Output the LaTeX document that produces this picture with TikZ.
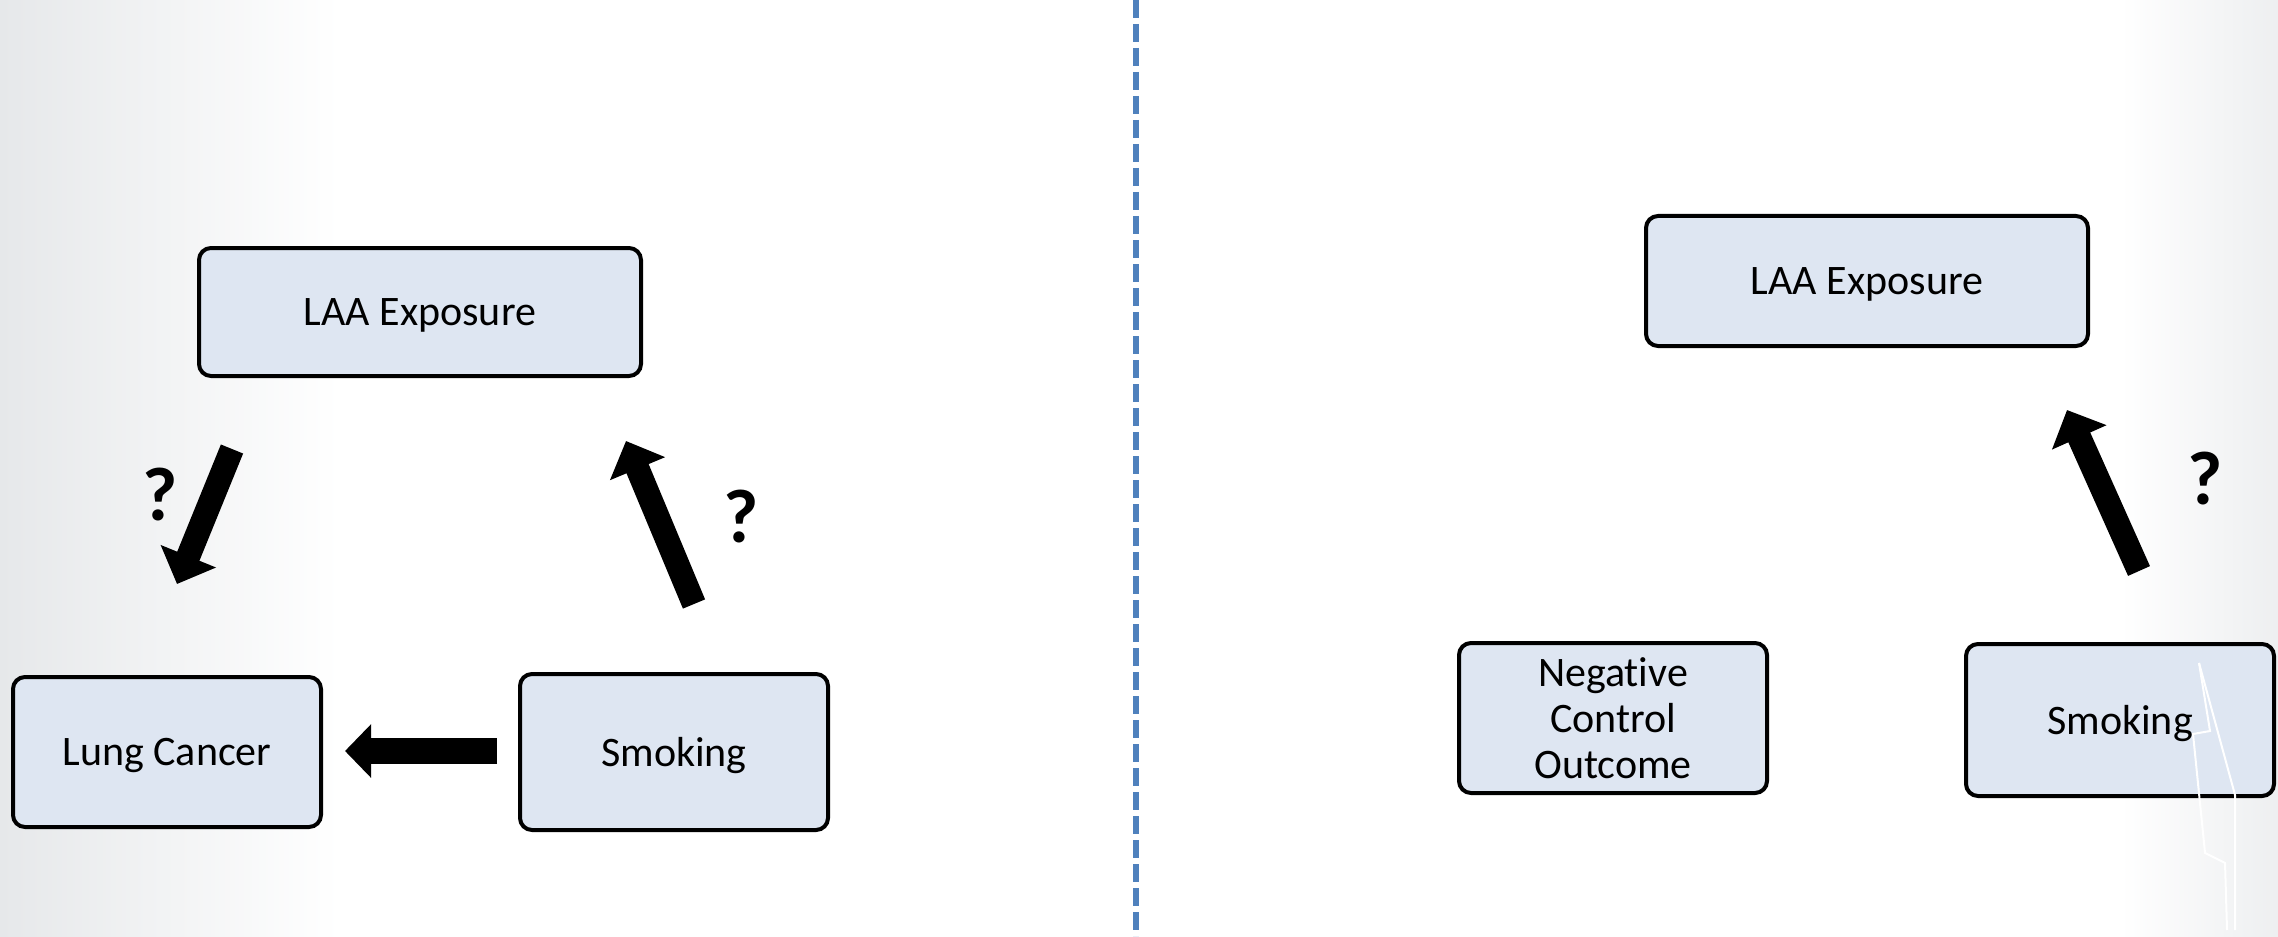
\documentclass[tikz,border=0pt]{standalone}
\usepackage{fontspec}
\setmainfont{Carlito}[Ligatures=NoCommon]
\usepackage{xcolor}
\usepackage{tikz}
\usetikzlibrary{arrows.meta,positioning,calc}
\definecolor{nbox}{HTML}{DEE6F2}
\definecolor{ndash}{HTML}{4F81BD}
\definecolor{nshade}{HTML}{E6E8EA}

\tikzset{
  varbox/.style={draw=black,fill=nbox,line width=2pt,rounded corners=6pt,
    align=center,font=\fontsize{21}{23}\selectfont,
    minimum width=154pt,minimum height=76pt,inner sep=2pt},
  onerow/.style={text depth=0pt},
  widebox/.style={varbox,onerow,minimum width=221pt,minimum height=64pt},
  fatarrow/.style={line width=12pt,-{Triangle[width=29pt,length=15pt]}},
  qmark/.style={font=\fontsize{38}{40}\selectfont\bfseries}
}

\begin{document}
\begin{tikzpicture}[x=0.5pt,y=-0.5pt]
  \useasboundingbox (0,0) rectangle (2278,936);
  % slide background
  \fill[white] (0,0) rectangle (2278,936);
  \shade[left color=nshade,right color=white] (0,0) rectangle (340,936);
  \shade[left color=white,right color=nshade!70] (2120,0) rectangle (2278,936);

  \draw[ndash,line width=3pt,dash pattern=on 9pt off 3pt] (1136,0) -- (1136,936);

  % left diagram
  \node[widebox] (laaL) at (420,312) {LAA Exposure};
  \node[varbox,onerow,minimum height=75pt] (lung) at (167,752) {Lung Cancer};
  \node[varbox,onerow,minimum height=78pt] (smokeL) at (674,752) {Smoking};

  \coordinate (a1s) at (232,449);
  \coordinate (a1e) at (177,584);
  \coordinate (a2s) at (694,604);
  \coordinate (a2e) at (626,441);
  \coordinate (a3s) at (497,751);
  \coordinate (a3e) at (345,751);
  \draw[fatarrow] (a1s) -- (a1e);
  \draw[fatarrow] (a2s) -- (a2e);
  \draw[fatarrow,line width=13pt,-{Triangle[width=26pt,length=13pt]}] (a3s) -- (a3e);
  \node[qmark] (q1) at (160,495) {?};
  \node[qmark] (q2) at (741,517) {?};

  % right diagram
  \node[widebox,minimum height=65pt] (laaR) at (1867,281) {LAA Exposure};
  \node[varbox,minimum height=75pt] (nco) at (1613,718) {Negative\\Control\\Outcome};
  \node[varbox,onerow,minimum height=76pt] (smokeR) at (2120,720) {Smoking};

  \coordinate (a4s) at (2139,571);
  \coordinate (a4e) at (2067,410);
  \draw[fatarrow] (a4s) -- (a4e);
  \node[qmark] (q3) at (2205,479) {?};

  % white streak from the slide
  \draw[white,line width=1pt] (2199,663) -- (2210,731) -- (2193,734)
    -- (2205,853) -- (2225,863) -- (2227,930);
  \draw[white,line width=1pt] (2199,663) -- (2235,795) -- (2235,930);
\end{tikzpicture}
\end{document}
